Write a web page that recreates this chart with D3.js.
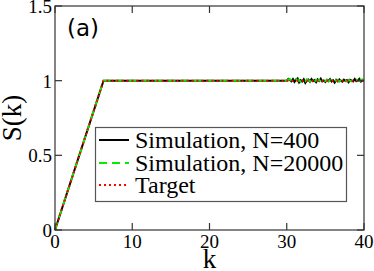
<!DOCTYPE html>
<html>
<head>
<meta charset="utf-8">
<script src="https://cdn.jsdelivr.net/npm/d3@7"></script>
<style>
  body { margin: 0; background: #fff; }
  svg { display: block; }
</style>
</head>
<body>
<div id="chart"></div>
<script>
// data
var xTicks = [0, 10, 20, 30, 40];
var yTicks = [0, 0.5, 1, 1.5];
var yTickLabels = ["0", "0.5", "1", "1.5"];

// target: linear rise to k = 2pi, then flat
var targetK = [0, 6.28, 40];
var targetS = [0, 1, 1];

// simulations follow target up to k = 30, then fluctuate
var simK = [0, 6.28, 30];
var simS = [0, 1, 1];
var noiseK = [30.0, 30.2, 30.4, 30.6, 30.8, 31.0, 31.2, 31.4, 31.6, 31.8,
  32.0, 32.2, 32.4, 32.6, 32.8, 33.0, 33.2, 33.4, 33.6, 33.8,
  34.0, 34.2, 34.4, 34.6, 34.8, 35.0, 35.2, 35.4, 35.6, 35.8,
  36.0, 36.2, 36.4, 36.6, 36.8, 37.0, 37.2, 37.4, 37.6, 37.8,
  38.0, 38.2, 38.4, 38.6, 38.8, 39.0, 39.2, 39.4, 39.6, 39.8, 40.0];
var noise400 = [1.000, 1.012, 1.004, 0.996, 1.010, 0.992, 1.006, 1.015, 0.988, 1.003,
  0.994, 1.009, 0.985, 1.002, 1.007, 0.993, 1.011, 0.997, 1.004, 0.990,
  1.008, 0.998, 1.013, 0.995, 1.001, 0.991, 1.006, 0.999, 1.010, 0.994,
  1.003, 0.987, 1.005, 0.996, 1.009, 1.000, 0.993, 1.007, 0.998, 1.004,
  0.990, 1.006, 1.001, 0.995, 1.011, 0.997, 1.003, 1.012, 0.994, 1.002, 0.999];
var noise20000 = [1.000, 1.008, 1.010, 1.002, 0.995, 1.007, 1.011, 0.997, 1.004, 0.993,
  1.006, 1.000, 0.996, 1.009, 1.003, 0.994, 1.005, 1.001, 0.992, 1.007,
  0.998, 1.004, 0.995, 1.008, 1.002, 0.997, 1.005, 0.994, 1.003, 1.000,
  0.996, 1.006, 0.999, 1.004, 0.993, 1.002, 1.007, 0.997, 1.001, 0.995,
  1.005, 1.000, 0.996, 1.003, 0.998, 1.006, 1.001, 0.997, 1.004, 1.009, 1.000];

var seriesNames = ["Simulation, N=400", "Simulation, N=20000", "Target"];

var width = 374, height = 271;
var margin = {left: 55, right: 10, top: 6, bottom: 41};

var svg = d3.select("#chart").append("svg")
    .attr("width", width)
    .attr("height", height);

var x = d3.scaleLinear().domain([0, 40]).range([margin.left, width - margin.right]);
var y = d3.scaleLinear().domain([0, 1.5]).range([height - margin.bottom, margin.top]);

function pts(ks, ss) {
    return ks.map(function(k, i) { return [k, ss[i]]; });
}

var data400 = pts(simK, simS).concat(pts(noiseK, noise400));
var data20000 = pts(simK, simS).concat(pts(noiseK, noise20000));
var dataTarget = pts(targetK, targetS);

var line = d3.line()
    .x(function(d) { return x(d[0]); })
    .y(function(d) { return y(d[1]); });

var styles = [
    {color: "#000000", dash: null, w: 2},
    {color: "#00ee00", dash: "8,5", w: 2},
    {color: "#ff0000", dash: "2,3", w: 2}
];

[data400, data20000, dataTarget].forEach(function(d, i) {
    svg.append("path")
        .datum(d)
        .attr("fill", "none")
        .attr("stroke", styles[i].color)
        .attr("stroke-width", styles[i].w)
        .attr("stroke-dasharray", styles[i].dash)
        .attr("d", line);
});

// frame with inward ticks on all sides
var gAxis = svg.append("g").attr("stroke", "#333").attr("stroke-width", 1.2);
gAxis.append("rect")
    .attr("x", x(0)).attr("y", y(1.5))
    .attr("width", x(40) - x(0)).attr("height", y(0) - y(1.5))
    .attr("fill", "none");
var tl = 7;
xTicks.forEach(function(t) {
    gAxis.append("line").attr("x1", x(t)).attr("x2", x(t)).attr("y1", y(0)).attr("y2", y(0) - tl);
    gAxis.append("line").attr("x1", x(t)).attr("x2", x(t)).attr("y1", y(1.5)).attr("y2", y(1.5) + tl);
});
yTicks.forEach(function(t) {
    gAxis.append("line").attr("x1", x(0)).attr("x2", x(0) + tl).attr("y1", y(t)).attr("y2", y(t));
    gAxis.append("line").attr("x1", x(40)).attr("x2", x(40) - tl).attr("y1", y(t)).attr("y2", y(t));
});

var serif = "Liberation Serif";

svg.append("g").selectAll("text")
    .data(xTicks)
    .enter()
    .append("text")
    .attr("x", function(d) { return x(d); })
    .attr("y", y(0) + 18)
    .style("font-size", "19px")
    .style("font-family", serif)
    .style("text-anchor", "middle")
    .text(function(d) { return d; });

svg.append("g").selectAll("text")
    .data(yTicks)
    .enter()
    .append("text")
    .attr("x", x(0) - 3)
    .attr("y", function(d) { return y(d) + 7; })
    .style("font-size", "19px")
    .style("font-family", serif)
    .style("text-anchor", "end")
    .text(function(d, i) { return yTickLabels[i]; });

// axis titles
svg.append("text")
    .attr("x", (x(0) + x(40)) / 2)
    .attr("y", 268)
    .style("font-size", "27px")
    .style("font-family", serif)
    .style("text-anchor", "middle")
    .text("k");

svg.append("text")
    .attr("transform", "translate(21," + ((y(0) + y(1.5)) / 2) + ") rotate(-90)")
    .style("font-size", "27px")
    .style("font-family", serif)
    .style("text-anchor", "middle")
    .text("S(k)");

svg.append("text")
    .attr("x", 67)
    .attr("y", 36)
    .style("font-size", "23px")
    .style("font-family", "DejaVu Sans")
    .text("(a)");

// legend
var leg = svg.append("g");
leg.append("rect")
    .attr("x", 95.5).attr("y", 127.5)
    .attr("width", 251).attr("height", 74)
    .attr("fill", "#fff")
    .attr("stroke", "#555")
    .attr("stroke-width", 1.2);
var rowY = [140, 163, 185];
seriesNames.forEach(function(name, i) {
    leg.append("line")
        .attr("x1", 99).attr("x2", 129)
        .attr("y1", rowY[i]).attr("y2", rowY[i])
        .attr("stroke", styles[i].color)
        .attr("stroke-width", styles[i].w)
        .attr("stroke-dasharray", styles[i].dash);
    leg.append("text")
        .attr("x", 135)
        .attr("y", rowY[i] + 8)
        .style("font-size", "24px")
        .style("font-family", serif)
        .text(name);
});
</script>
</body>
</html>
